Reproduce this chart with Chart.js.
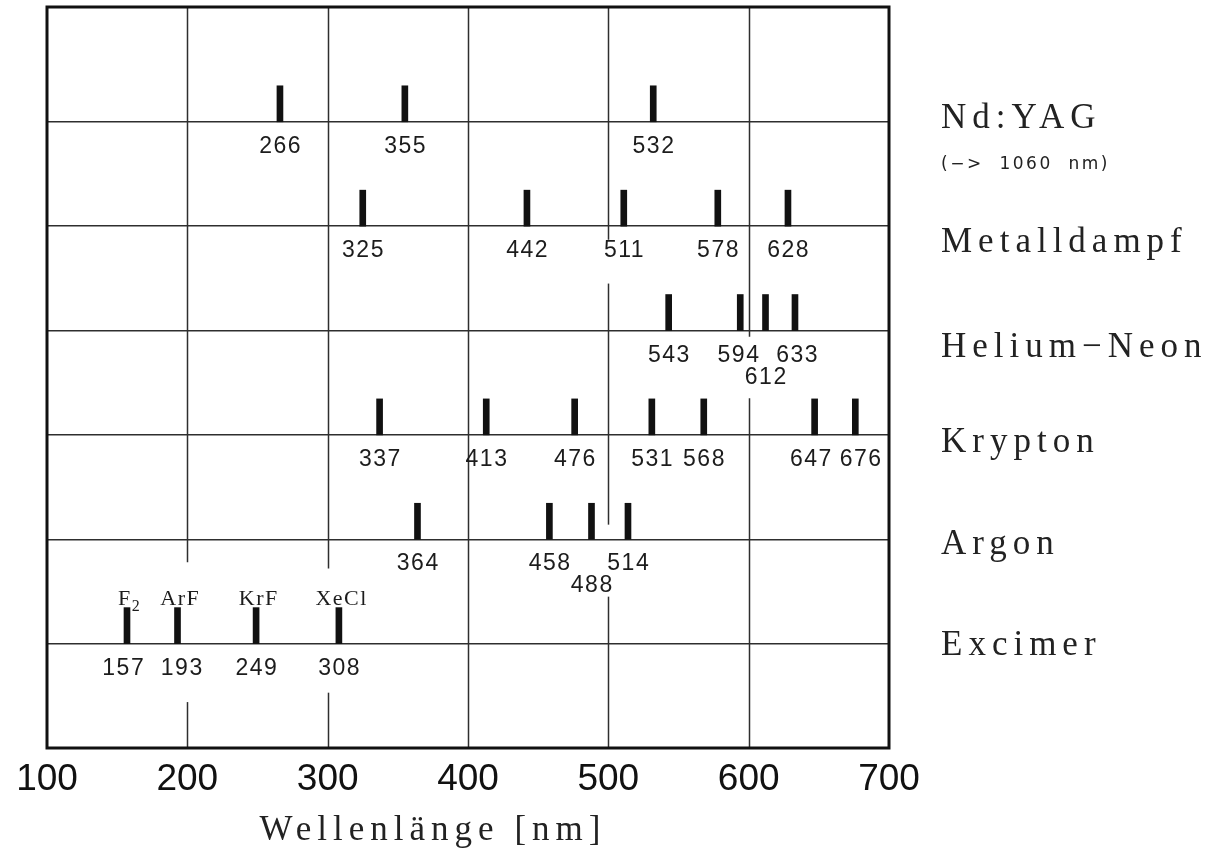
<!DOCTYPE html>
<html>
<head>
<meta charset="utf-8">
<script src="https://cdn.jsdelivr.net/npm/chart.js@4/dist/chart.umd.min.js"></script>
<style>
  html, body { margin: 0; padding: 0; background: #ffffff; }
  #wrap { width: 1217px; height: 849px; }
</style>
</head>
<body>
<div id="wrap"><canvas id="chart" width="1217" height="849"></canvas></div>
<script>
// ---------------- data ----------------
const laserTypes = ['Nd:YAG', 'Metalldampf', 'Helium\u2212Neon', 'Krypton', 'Argon', 'Excimer'];
const ndYag       = [266, 355, 532];
const metalldampf = [325, 442, 511, 578, 628];
const heliumNeon  = [543, 594, 612, 633];
const krypton     = [337, 413, 476, 531, 568, 647, 676];
const argon       = [364, 458, 488, 514];
const excimer     = [157, 193, 249, 308];
const excimerNames = ['F\u2082', 'ArF', 'KrF', 'XeCl'];
const xTickValues = [100, 200, 300, 400, 500, 600, 700];
const ndYagNote = '(\u2212>  1060  nm)';
const xTitle = 'Wellenl\u00e4nge [nm]';

// ---------------- layout helpers ----------------
const series = [ndYag, metalldampf, heliumNeon, krypton, argon, excimer];
const rowValue = i => laserTypes.length - i;      // Nd:YAG top (6) ... Excimer bottom (1)
const BAR_H = 0.345;

function spacedText(ctx, s, x, y, font, spacing, align, color) {
  ctx.save();
  ctx.font = font;
  ctx.fillStyle = color || '#1c1c1c';
  ctx.textAlign = 'left';
  ctx.textBaseline = 'alphabetic';
  let sp = 0;
  if ('letterSpacing' in ctx) { ctx.letterSpacing = spacing + 'px'; sp = spacing; }
  const w = ctx.measureText(s).width;
  let x0 = x;
  if (align === 'center') x0 = x - (w - sp) / 2;
  ctx.fillText(s, x0, y);
  ctx.restore();
  return w;
}

// text with subscript digits (e.g. F2)
function subText(ctx, s, x, y, size, family, spacing, color) {
  const m = s.match(/^([^\u2080-\u2089]*)([\u2080-\u2089]*)$/);
  const main = m ? m[1] : s;
  const sub = m ? m[2].split('').map(c => String.fromCharCode(c.charCodeAt(0) - 0x2080 + 48)).join('') : '';
  const subSize = Math.round(size * 0.72);
  ctx.save();
  if ('letterSpacing' in ctx) ctx.letterSpacing = spacing + 'px';
  ctx.font = size + 'px ' + family;
  const wm = ctx.measureText(main).width;
  ctx.font = subSize + 'px ' + family;
  const ws = ctx.measureText(sub).width;
  ctx.restore();
  const total = wm + ws - spacing;
  const x0 = x - total / 2;
  spacedText(ctx, main, x0, y, size + 'px ' + family, spacing, 'left', color);
  if (sub) spacedText(ctx, sub, x0 + wm, y + size * 0.3, subSize + 'px ' + family, 0, 'left', color);
}

const decoPlugin = {
  id: 'laserDeco',
  beforeDatasetsDraw(chart, args, opts) {
    const ctx = chart.ctx, xs = chart.scales.x, ys = chart.scales.y;
    const yMin = ys.min, yMax = ys.max;
    ctx.save();
    ctx.strokeStyle = '#2e2e2e';
    ctx.lineWidth = 1.5;
    xTickValues.slice(1, -1).forEach(t => {
      const px = Math.round(xs.getPixelForValue(t)) + 0.5;
      const raw = opts.gridGaps[t] || [];
      const gaps = [];
      for (let k = 0; k < raw.length; k++) gaps.push([Number(raw[k][0]), Number(raw[k][1])]);
      gaps.sort((a, b) => a[0] - b[0]);
      let from = yMin;
      const segs = [];
      gaps.forEach(g => { segs.push([from, g[0]]); from = g[1]; });
      segs.push([from, yMax]);
      segs.forEach(s => {
        ctx.beginPath();
        ctx.moveTo(px, ys.getPixelForValue(s[0]));
        ctx.lineTo(px, ys.getPixelForValue(s[1]));
        ctx.stroke();
      });
    });
    ctx.restore();
  },
  afterDatasetsDraw(chart, args, opts) {
    const ctx = chart.ctx, xs = chart.scales.x, ys = chart.scales.y, ca = chart.chartArea;
    // wavelength labels under each line
    series.forEach((vals, i) => {
      const base = ys.getPixelForValue(rowValue(i));
      const stag = opts.secondLine[laserTypes[i]] || [];
      const nudge = opts.labelNudge[laserTypes[i]] || {};
      vals.forEach(v => {
        const y = base + (stag.includes(v) ? 53 : 31);
        spacedText(ctx, String(v), xs.getPixelForValue(v) + (nudge[v] || 0), y, '23px "Liberation Sans"', 1.5, 'center', '#1c1c1c');
      });
    });
    // excimer gas names above bars
    const exRow = ys.getPixelForValue(rowValue(5));
    excimer.forEach((v, k) => {
      subText(ctx, excimerNames[k], xs.getPixelForValue(v) + 2, exRow - 39, 22, '"Liberation Serif"', 1.5, '#1c1c1c');
    });
    // laser type names on the right
    laserTypes.forEach((name, i) => {
      const y = ys.getPixelForValue(rowValue(i)) + opts.nameNudge[i];
      spacedText(ctx, name, ca.right + 52, y, '35px "Liberation Serif"', 6, 'left', '#222');
    });
    spacedText(ctx, ndYagNote, ca.right + 52, ys.getPixelForValue(rowValue(0)) + 47, '17px "DejaVu Sans"', 2.5, 'left', '#222');
    // x axis title
    spacedText(ctx, xTitle, ca.left + 383, 840, '35px "Liberation Serif"', 6, 'center', '#222');
    // frame
    ctx.save();
    ctx.strokeStyle = '#111';
    ctx.lineWidth = 3;
    ctx.strokeRect(ca.left, ca.top, ca.right - ca.left, ca.bottom - ca.top);
    ctx.restore();
  }
};

const datasets = series.map((vals, i) => ({
  label: laserTypes[i],
  data: vals.map(v => ({ x: v, y: [rowValue(i), rowValue(i) + BAR_H] })),
  backgroundColor: '#111111',
  borderWidth: 0,
  grouped: false,
  barThickness: 6
}));

new Chart(document.getElementById('chart'), {
  type: 'bar',
  data: { datasets },
  options: {
    responsive: false,
    animation: false,
    devicePixelRatio: 1,
    layout: { padding: { left: 47, top: 7, right: 328, bottom: 0 } },
    plugins: {
      legend: { display: false },
      tooltip: { enabled: false },
      laserDeco: {
        gridGaps: { 200: [[0.44, 1.78]], 300: [[0.53, 1.72]], 500: [[1.45, 2.14], [4.45, 4.87]], 600: [[3.35, 3.94]] },
        secondLine: { 'Helium\u2212Neon': [612], 'Argon': [488] },
        labelNudge: { 'Krypton': { 647: -4, 676: 5 }, 'Excimer': { 157: -4, 193: 4 }, 'Helium\u2212Neon': { 594: -2, 633: 2 } },
        nameNudge: [6, 26, 26, 17, 15, 11]
      }
    },
    scales: {
      x: {
        type: 'linear',
        min: 100, max: 700,
        offset: false,
        afterBuildTicks: s => { s.ticks = xTickValues.map(v => ({ value: v })); },
        ticks: { font: { family: 'Liberation Sans', size: 37 }, color: '#111', padding: 2, maxRotation: 0 },
        grid: { display: false, offset: false },
        border: { display: false },
        afterFit: s => { s.height = 101; }
      },
      y: {
        type: 'linear',
        min: 0, max: 7.1,
        afterBuildTicks: s => { s.ticks = laserTypes.map((_, i) => ({ value: rowValue(i) })); },
        ticks: { display: false },
        grid: { color: '#2e2e2e', lineWidth: 1.5, drawTicks: false },
        border: { display: false },
        afterFit: s => { s.width = 0; }
      }
    }
  },
  plugins: [decoPlugin]
});
</script>
</body>
</html>
